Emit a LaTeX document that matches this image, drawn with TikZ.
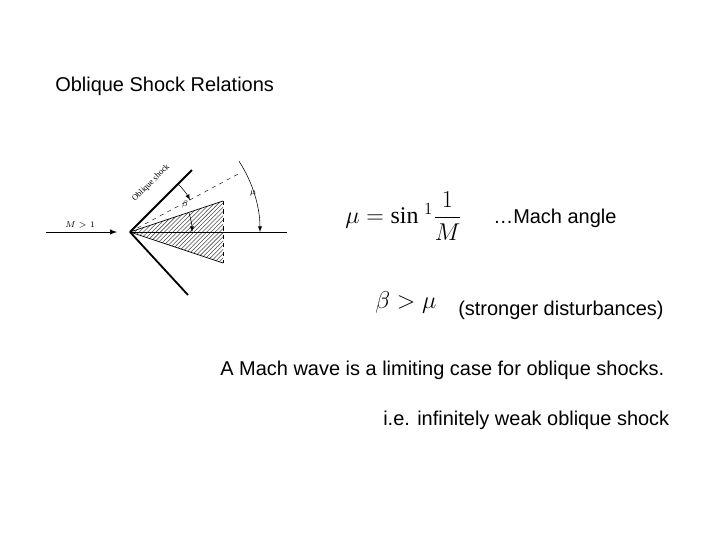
\documentclass[tikz,border=0pt]{standalone}
\usepackage{fontspec}
\setmainfont{Liberation Sans}
\newfontfamily\serfont{Liberation Serif}
\usetikzlibrary{patterns}
\tikzset{
  txt/.style={anchor=west, inner sep=0pt, font=\fontsize{14.2}{17}\selectfont},
  small/.style={inner sep=0pt, font=\serfont\fontsize{6}{7}\selectfont},
  shock/.style={line width=1.3pt},
  thin dash/.style={dashed, line width=0.3pt}
}
\begin{document}
\begin{tikzpicture}[x=0.025cm, y=-0.025cm]
\useasboundingbox (0,0) rectangle (720,540);

% title
\node[txt] (title) at (55,86) {Oblique Shock Relations};

% sketch
\coordinate (apex) at (130,232);
\coordinate (up) at (192,170);
\coordinate (lo) at (188,295);
\coordinate (ct) at (223,201);
\coordinate (cb) at (223,263);
\coordinate (mu) at (240,173);
\coordinate (far) at (287,232);

\fill[pattern=north east lines, pattern color=black!70] (apex) -- (ct) -- (cb) -- cycle;
\draw[line width=0.5pt] (apex) -- (ct);
\draw[line width=0.5pt] (apex) -- (cb);
\draw[thin dash] (ct) -- (cb);
\draw[thin dash] (apex) -- (mu);
\draw[line width=0.6pt] (apex) -- (far);
\draw[shock] (apex) -- (up);
\draw[shock] (apex) -- (lo);

% free stream
\coordinate (in) at (46,232);
\coordinate (inend) at (117,232);
\draw[-latex, line width=0.7pt] (in) -- (inend);
\node[small] (mach) at (80,225) {$M>1$};

% angles
\draw[-latex, line width=0.4pt] (apex) ++(-45:68) arc (-45:-28:68);
\draw[-latex, line width=0.4pt] (apex) ++(-18:62) arc (-18:0:62);
\draw[-latex, line width=0.4pt] (apex) ++(-33:130) arc (-33:0:130);
\node[small] (beta) at (185,204) {$\beta$};
\node[small] (mulab) at (253,193) {$\mu$};
\node[small, rotate=45] (shlab) at (151,183) {Oblique shock};

% relations
\node[txt, font=\serfont\fontsize{17}{20}\selectfont] (eq) at (345,216)
  {$\mu = \mbox{\serfont sin}^{\,\,1}\displaystyle\frac{1}{M}$};
\node[txt] (machangle) at (493,218) {\dots Mach angle};
\node[txt, font=\serfont\fontsize{17}{20}\selectfont] (ineq) at (375,302) {$\beta>\mu$};
\node[txt] (strong) at (458,310) {(stronger disturbances)};
\node[txt] (wave) at (220,370) {A Mach wave is a limiting case for oblique shocks.};
\node[txt] (weak) at (383,420) {i.e. infinitely weak oblique shock};
\end{tikzpicture}
\end{document}
